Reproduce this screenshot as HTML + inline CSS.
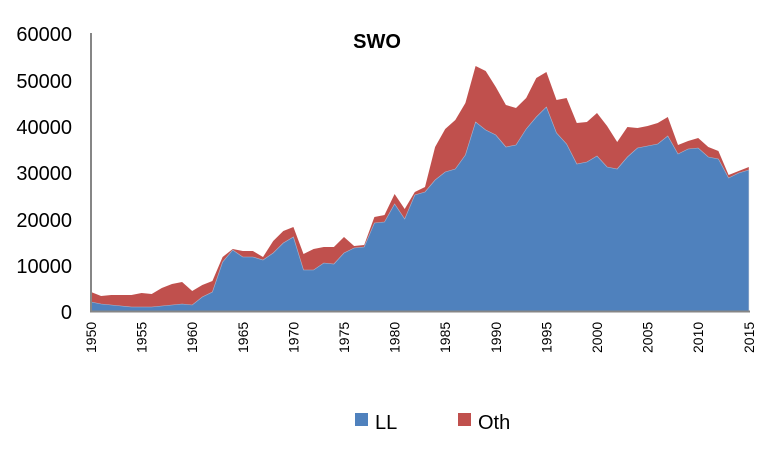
<!DOCTYPE html>
<html><head><style>body{margin:0;background:#fff}svg{display:block}</style></head><body>
<svg width="770" height="465" xmlns="http://www.w3.org/2000/svg" font-family="Liberation Sans, sans-serif">
<polygon fill="#c0504d" points="91,311 91,292 101.1,296 111.2,295 121.4,295 131.5,295 141.6,293 151.7,294 161.8,288 172,284 182.1,282 192.2,291 202.3,285 212.4,281 222.6,257 232.7,249 242.8,251 252.9,251 263,257 273.2,241 283.3,231 293.4,227 303.5,254 313.6,249 323.8,247 333.9,247 344,237 354.1,246 364.2,245 374.4,217 384.5,215 394.6,194 404.7,209 414.8,192 425,187 435.1,147 445.2,129 455.3,120 465.4,103 475.6,66 485.7,71 495.8,87 505.9,105 516,108 526.2,98 536.3,78 546.4,72 556.5,100 566.6,98 576.8,123 586.9,122 597,113 607.1,126 617.2,142 627.4,127 637.5,128 647.6,126 657.7,123 667.8,117 678,145 688.1,141 698.2,138 708.3,147 718.4,151 728.6,175 738.7,171 748.8,167 748.8,311"/>
<polygon fill="#4f81bd" stroke="#a9b8d0" stroke-width="0.6" points="91,311 91,302 101.1,304 111.2,305 121.4,306 131.5,307 141.6,307 151.7,307 161.8,306 172,305 182.1,304 192.2,305 202.3,297 212.4,292 222.6,262 232.7,250 242.8,257 252.9,257 263,260 273.2,253 283.3,243 293.4,237 303.5,270 313.6,270 323.8,263 333.9,264 344,253 354.1,248 364.2,247 374.4,223 384.5,222 394.6,204 404.7,219 414.8,195 425,192 435.1,180 445.2,172 455.3,169 465.4,155 475.6,122 485.7,130 495.8,135 505.9,147 516,145 526.2,129 536.3,117 546.4,107 556.5,133 566.6,144 576.8,164 586.9,162 597,156 607.1,167 617.2,169 627.4,157 637.5,148 647.6,146 657.7,144 667.8,136 678,154 688.1,149 698.2,148 708.3,157 718.4,159 728.6,178 738.7,173 748.8,170 748.8,311"/>
<line x1="91" y1="33" x2="91" y2="312" stroke="#868686" stroke-width="2"/>
<line x1="90" y1="311.5" x2="750" y2="311.5" stroke="#868686" stroke-width="2"/>
<text x="377" y="48" font-size="20" font-weight="bold" text-anchor="middle">SWO</text>
<g font-size="20" text-anchor="end" fill="#000">
<text x="72" y="41">60000</text><text x="72" y="88">50000</text><text x="72" y="134">40000</text>
<text x="72" y="180">30000</text><text x="72" y="227">20000</text><text x="72" y="273">10000</text>
<text x="72" y="319">0</text></g>
<g font-size="14">
<text transform="translate(96,353) rotate(-90)">1950</text>
<text transform="translate(146.6,353) rotate(-90)">1955</text>
<text transform="translate(197.2,353) rotate(-90)">1960</text>
<text transform="translate(247.8,353) rotate(-90)">1965</text>
<text transform="translate(298.4,353) rotate(-90)">1970</text>
<text transform="translate(349,353) rotate(-90)">1975</text>
<text transform="translate(399.6,353) rotate(-90)">1980</text>
<text transform="translate(450.2,353) rotate(-90)">1985</text>
<text transform="translate(500.8,353) rotate(-90)">1990</text>
<text transform="translate(551.4,353) rotate(-90)">1995</text>
<text transform="translate(602,353) rotate(-90)">2000</text>
<text transform="translate(652.6,353) rotate(-90)">2005</text>
<text transform="translate(703.2,353) rotate(-90)">2010</text>
<text transform="translate(753.8,353) rotate(-90)">2015</text>
</g>
<rect x="355" y="413" width="13" height="13" fill="#4f81bd"/><text x="375" y="429" font-size="20">LL</text>
<rect x="458" y="413" width="13" height="13" fill="#c0504d"/><text x="478" y="429" font-size="20">Oth</text>
</svg>
</body></html>
